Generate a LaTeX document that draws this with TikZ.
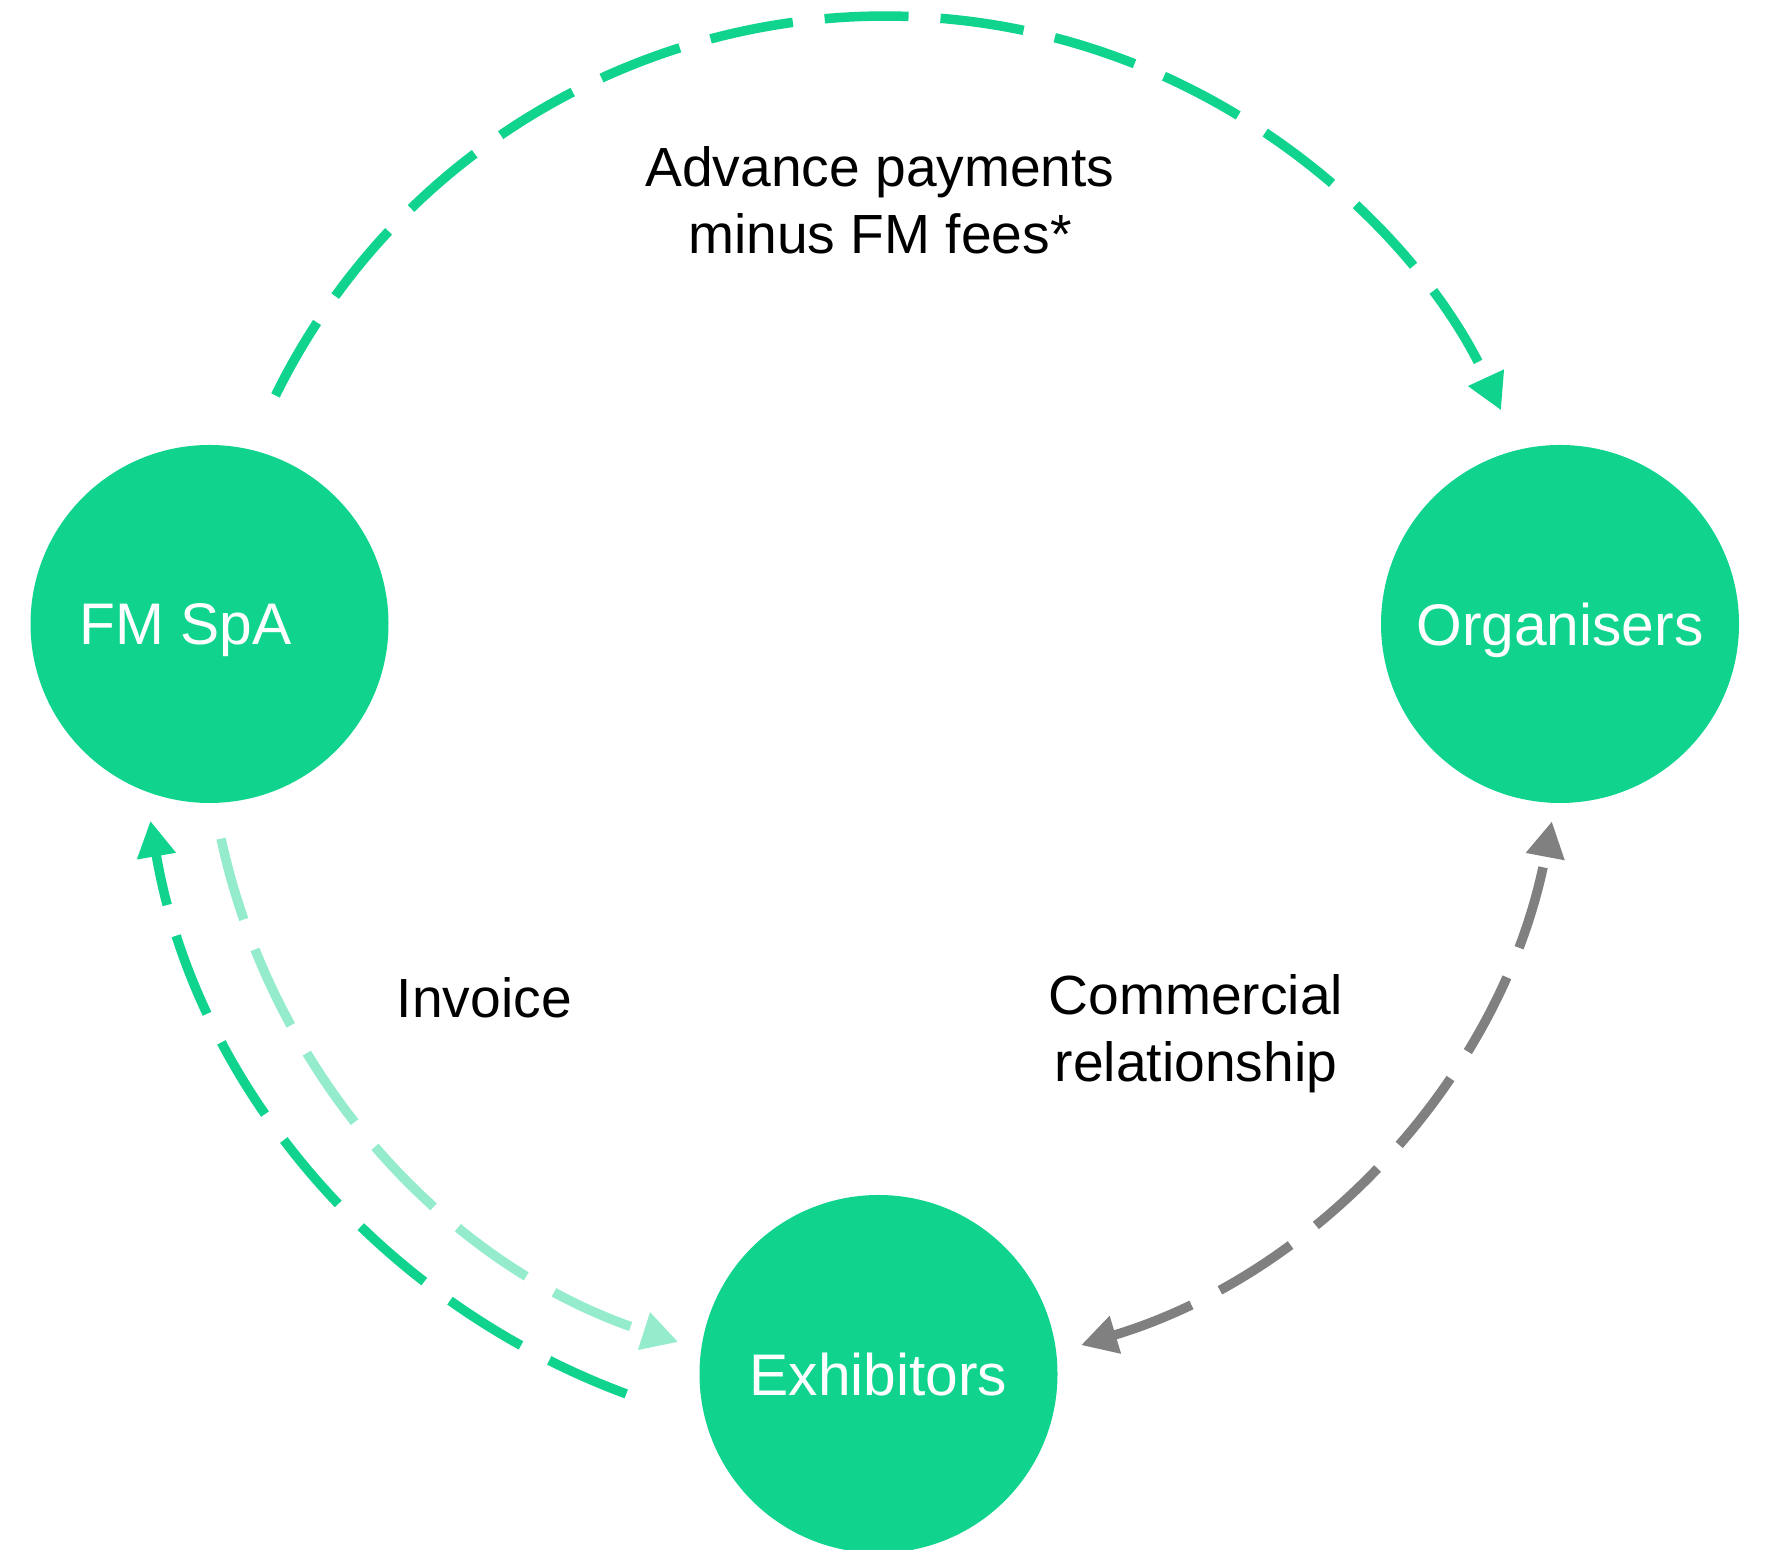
\documentclass[tikz,border=0pt]{standalone}
\usepackage{fontspec}
\setmainfont{Liberation Sans}
\usetikzlibrary{arrows.meta}
\definecolor{fmgreen}{RGB}{16,212,142}
\definecolor{fmlight}{RGB}{148,236,204}
\definecolor{fmgray}{RGB}{128,128,128}
\tikzset{
  fmtip/.tip={Triangle[length=3.6mm,width=3.7mm]},
  hub/.style={circle,fill=fmgreen,minimum size=35.8mm,inner sep=0pt,hubtext},
  hubtext/.style={text=white,text depth=0pt,font=\fontsize{16.7}{20}\selectfont},
  flow/.style={line width=0.95mm,dash pattern=on 8.4mm off 3.2mm,-{fmtip}},
  tag/.style={align=center,font=\fontsize{15.7}{19.2}\selectfont}
}
\begin{document}
\begin{tikzpicture}[x=0.1mm,y=0.1mm]
    \useasboundingbox (0,0) rectangle (1766,1550);
    \coordinate (ring) at (884.7,854.8);

    \node[hub,label={[hubtext,xshift=-2.4mm]center:FM SpA}] (fm) at (209.5,926) {};
    \node[hub] (org) at (1560,926) {Organisers};
    \node[hub] (exh) at (878.5,176) {Exhibitors};

    \path (ring) ++(153.8:679) coordinate (pay-a);
    \path (ring) ++(192.2:679) coordinate (inv-a);
    \path (ring) ++(249.7:745) coordinate (ret-a);
    \path (ring) ++(-73.2:679) coordinate (rel-a);

    \draw[flow,fmgreen] (pay-a) arc[start angle=153.8,end angle=24.8,radius=679];
    \draw[flow,fmlight] (inv-a) arc[start angle=192.2,end angle=252.3,radius=679];
    \draw[flow,fmgreen] (ret-a) arc[start angle=249.7,end angle=189.7,radius=745];
    \draw[flow,fmgray,{fmtip}-{fmtip}] (rel-a) arc[start angle=-73.2,end angle=-10.7,radius=679];

    \node[tag] (pay) at (880,1349.6) {Advance payments\\minus FM fees*};
    \node[tag] (inv) at (484.3,552) {Invoice};
    \node[tag] (rel) at (1196,516.5) {Commercial\\relationship};
\end{tikzpicture}
\end{document}
